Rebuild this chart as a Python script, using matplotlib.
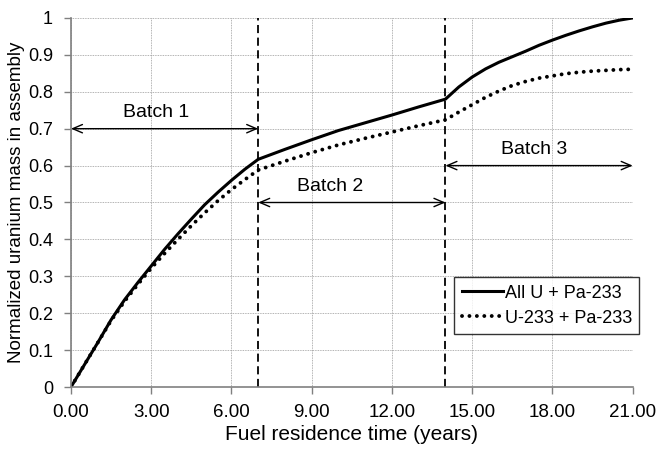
import matplotlib
matplotlib.use("Agg")
import matplotlib.pyplot as plt

plt.rcParams["font.family"] = ["Liberation Sans", "DejaVu Sans"]

# data
years = [0, 0.5, 1, 1.5, 2, 2.5, 3, 3.5, 4, 4.5, 5, 5.5, 6, 6.5, 7,
         8, 9, 10, 11, 12, 13, 14,
         14.5, 15, 15.5, 16, 16.5, 17, 17.5, 18, 18.5, 19, 19.5, 20, 20.5, 21]
all_u = [0.0, 0.06, 0.12, 0.182, 0.236, 0.283, 0.328, 0.373, 0.415,
         0.455, 0.494, 0.528, 0.56, 0.59, 0.617,
         0.644, 0.67, 0.695, 0.716, 0.737, 0.759, 0.78,
         0.813, 0.84, 0.862, 0.88, 0.895, 0.91, 0.926, 0.94, 0.953,
         0.965, 0.976, 0.986, 0.994, 1.0]
u233 = [0.0, 0.06, 0.12, 0.18, 0.232, 0.278, 0.322, 0.362, 0.400,
        0.437, 0.472, 0.505, 0.535, 0.562, 0.588,
        0.612, 0.635, 0.656, 0.674, 0.691, 0.708, 0.724,
        0.745, 0.765, 0.785, 0.802, 0.817, 0.828, 0.837, 0.843, 0.849,
        0.853, 0.856, 0.858, 0.860, 0.861]
batch_edges = [0, 7, 14, 21]
batch_labels = ["Batch 1", "Batch 2", "Batch 3"]
batch_arrow_y = [0.7, 0.5, 0.6]
batch_label_x = [3.2, 9.7, 17.3]
xticks = [0, 3, 6, 9, 12, 15, 18, 21]
yticks = [0, 0.1, 0.2, 0.3, 0.4, 0.5, 0.6, 0.7, 0.8, 0.9, 1.0]
ytick_labels = ["0", "0.1", "0.2", "0.3", "0.4", "0.5", "0.6", "0.7",
                "0.8", "0.9", "1"]

fig = plt.figure(figsize=(6.57, 4.49), dpi=100)
ax = fig.add_axes([0.108, 0.138, 0.855, 0.822])

ax.grid(True, color="0.6", linestyle=(0, (1, 1)), linewidth=0.6)
ax.set_axisbelow(True)

ax.plot(years, all_u, color="black", linewidth=2.2, label="All U + Pa-233")
ax.plot(years, u233, color="black", linewidth=2.8,
        linestyle=(0, (0.01, 1.9)), dash_capstyle="round",
        label="U-233 + Pa-233")

for x in batch_edges[1:3]:
    ax.axvline(x, color="black", linewidth=1.3, linestyle=(0, (4.5, 2.5)))

for i, label in enumerate(batch_labels):
    x0, x1 = batch_edges[i], batch_edges[i + 1]
    y = batch_arrow_y[i]
    ax.annotate("", xy=(x1, y), xytext=(x0, y),
                arrowprops=dict(arrowstyle="<->,head_length=0.7,head_width=0.3",
                                color="black", linewidth=1.0,
                                shrinkA=0, shrinkB=0))
    ax.text(batch_label_x[i], y + 0.032, label, ha="center", va="baseline",
            fontsize=14)

ax.set_xlim(0, 21)
ax.set_ylim(0, 1)
ax.set_xticks(xticks)
ax.set_xticklabels([f"{v:.2f}" for v in xticks])
ax.set_yticks(yticks)
ax.set_yticklabels(ytick_labels)
ax.tick_params(axis="both", color="0.5", length=5, width=1)
ax.tick_params(axis="x", labelsize=13.5, pad=7)
ax.tick_params(axis="y", labelsize=13, pad=8)

for side in ["top", "right"]:
    ax.spines[side].set_visible(False)
for side in ["left", "bottom"]:
    ax.spines[side].set_color("0.5")
    ax.spines[side].set_linewidth(1.2)

ax.set_xlabel("Fuel residence time (years)", fontsize=15, labelpad=3)
ax.set_ylabel("Normalized uranium mass in assembly", fontsize=13.5, labelpad=2)

leg = ax.legend(loc="lower right", bbox_to_anchor=(1.012, 0.144),
                fontsize=13, frameon=True, fancybox=False,
                handlelength=2.3, handletextpad=0.1, borderpad=0.4,
                labelspacing=0.45, borderaxespad=0)
leg.get_frame().set_edgecolor("black")
leg.get_frame().set_linewidth(1.0)

fig.savefig("out.png", dpi=100)
